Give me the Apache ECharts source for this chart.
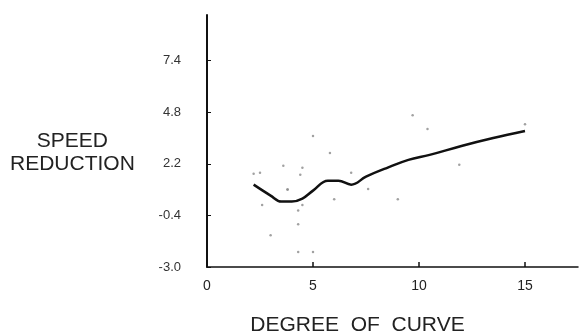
<!DOCTYPE html>
<html>
<head>
<meta charset="utf-8">
<script src="https://cdn.jsdelivr.net/npm/echarts@6/dist/echarts.min.js"></script>
<style>
  html, body { margin: 0; padding: 0; background: #fff; }
  #main { width: 579px; height: 335px; }
</style>
</head>
<body>
<div id="main"></div>
<script>
// smoothed trend (degree of curve, speed reduction)
var trendX = [2.2, 3.0, 3.5, 4.0, 4.5, 5.0, 5.7, 6.2, 6.8, 7.5, 8.5, 9.5, 10.5, 12.0, 13.5, 15.0];
var trendY = [1.15, 0.6, 0.3, 0.3, 0.45, 0.85, 1.35, 1.35, 1.15, 1.55, 2.0, 2.4, 2.65, 3.1, 3.5, 3.85];

// observed points
var obsX = [2.2, 2.5, 2.6, 3.0, 3.6, 3.8, 3.8, 4.3, 4.3, 4.3, 4.4, 4.5, 4.5, 5.0, 5.0, 5.8, 6.0, 6.8, 7.6, 9.0, 9.7, 10.4, 11.9, 15.0];
var obsY = [1.7, 1.75, 0.13, -1.4, 2.1, 0.9, 0.9, -0.85, -2.25, -0.15, 1.65, 2.0, 0.12, 3.6, -2.25, 2.75, 0.42, 1.75, 0.93, 0.42, 4.65, 3.95, 2.15, 4.2];

var yTicks = [-3.0, -0.4, 2.2, 4.8, 7.4];

var myChart = echarts.init(document.getElementById('main'));
myChart.setOption({
    backgroundColor: '#fff',
    animation: false,
    grid: { left: 207, right: 1, top: 15, bottom: 68, outerBoundsMode: 'none', containLabel: false },
    graphic: [{
        type: 'text',
        left: 10,
        top: 130,
        style: {
            text: 'SPEED\nREDUCTION',
            fontSize: 21,
            lineHeight: 23,
            fontFamily: 'Liberation Sans',
            fill: '#222',
            textAlign: 'center'
        }
    }],
    xAxis: {
        type: 'value',
        min: 0,
        max: 17.5,
        interval: 5,
        name: 'DEGREE  OF  CURVE',
        nameLocation: 'middle',
        nameGap: 48,
        nameTextStyle: { fontSize: 21, color: '#222', fontFamily: 'Liberation Sans', padding: [0, 70, 0, 0] },
        axisLine: { onZero: false, lineStyle: { color: '#111', width: 1.5 } },
        axisTick: { inside: true, length: 5, lineStyle: { color: '#111', width: 1.5 } },
        axisLabel: { fontSize: 14, color: '#222', margin: 12, fontFamily: 'Liberation Sans', showMaxLabel: false },
        splitLine: { show: false }
    },
    yAxis: {
        type: 'value',
        min: -3.0,
        max: 9.7,
        interval: 2.6,
        axisLine: { show: true, lineStyle: { color: '#111', width: 2 } },
        axisTick: { show: true, inside: true, length: 4, lineStyle: { color: '#111', width: 1 } },
        axisLabel: {
            fontSize: 13, color: '#333', margin: 26, fontFamily: 'Liberation Sans',
            showMaxLabel: false,
            formatter: function (v) {
                return yTicks.some(function (t) { return Math.abs(t - v) < 1e-6; }) ? v.toFixed(1) : '';
            }
        },
        splitLine: { show: false }
    },
    series: [
        {
            type: 'scatter',
            symbolSize: 2.5,
            itemStyle: { color: '#8a8a8a' },
            data: obsX.map(function (x, i) { return [x, obsY[i]]; })
        },
        {
            type: 'line',
            smooth: 0.4,
            showSymbol: false,
            lineStyle: { color: '#111', width: 2.5 },
            data: trendX.map(function (x, i) { return [x, trendY[i]]; })
        }
    ]
});
</script>
</body>
</html>
